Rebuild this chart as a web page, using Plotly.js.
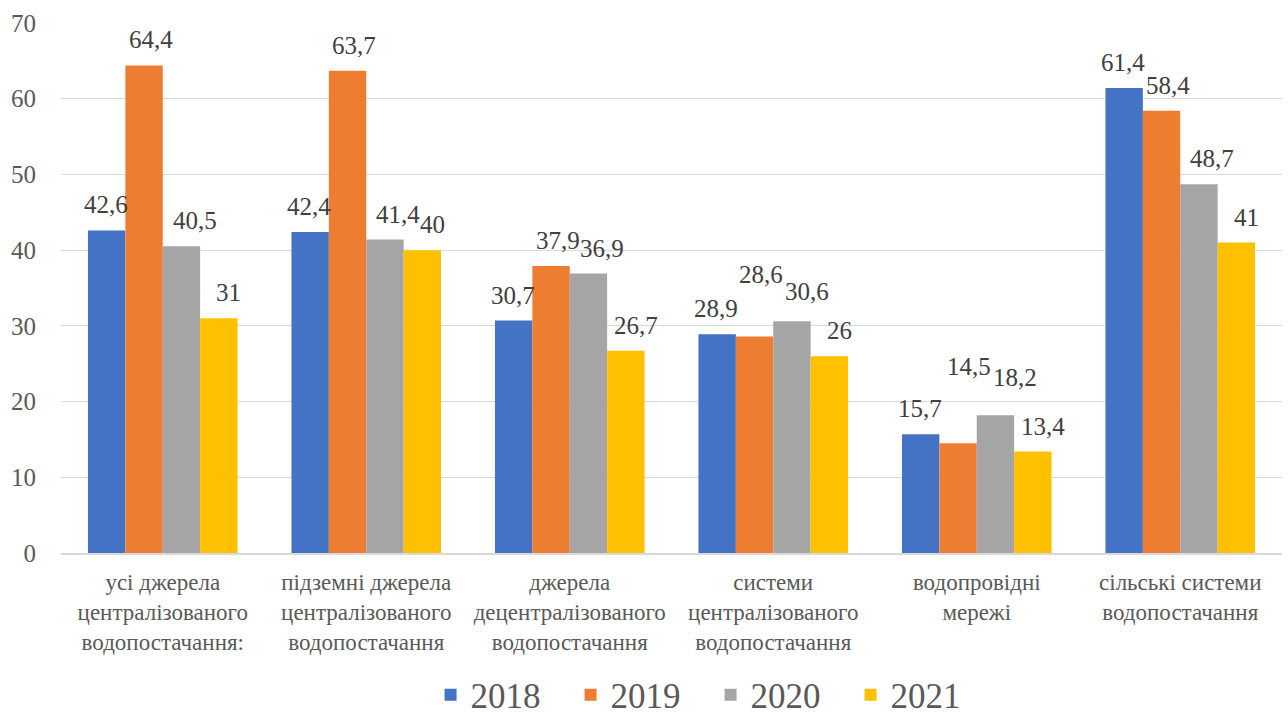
<!DOCTYPE html>
<html>
<head>
<meta charset="utf-8">
<script src="https://cdn.plot.ly/plotly-3.0.1.min.js"></script>
<style>html,body{margin:0;padding:0;background:#fff;}</style>
</head>
<body>
<div id="chart"></div>
<script>
// ---- data ----
var categories = [
  "усі джерела<br>централізованого<br>водопостачання:",
  "підземні джерела<br>централізованого<br>водопостачання",
  "джерела<br>децентралізованого<br>водопостачання",
  "системи<br>централізованого<br>водопостачання",
  "водопровідні<br>мережі",
  "сільські системи<br>водопостачання"
];
var seriesNames = ["2018", "2019", "2020", "2021"];
var values2018 = [42.6, 42.4, 30.7, 28.9, 15.7, 61.4];
var values2019 = [64.4, 63.7, 37.9, 28.6, 14.5, 58.4];
var values2020 = [40.5, 41.4, 36.9, 30.6, 18.2, 48.7];
var values2021 = [31, 40, 26.7, 26, 13.4, 41];
var yTicks = [0, 10, 20, 30, 40, 50, 60, 70];

// ---- styles ----
var SERIF = 'Liberation Serif';
var colors = ["#4472C4", "#ED7D31", "#A5A5A5", "#FFC000"];
var allValues = [values2018, values2019, values2020, values2021];
var seriesXShift = [-57, -12, 32, 66];
var baseYShift = 10;
var labelNudges = {
  "1|3": {dx: 0, dy: 36},
  "2|3": {dx: 2, dy: 4},
  "1|4": {dx: 4, dy: 51},
  "2|4": {dx: 6, dy: 12}
};

function fmt(v) { return String(v).replace('.', ','); }

function draw() {
  var traces = allValues.map(function (vals, i) {
    return {
      type: 'bar', name: seriesNames[i], x: categories, y: vals,
      marker: {color: colors[i]}, hoverinfo: 'none'
    };
  });

  var annotations = [];
  allValues.forEach(function (vals, si) {
    vals.forEach(function (v, ci) {
      var n = labelNudges[si + "|" + ci] || {dx: 0, dy: 0};
      annotations.push({
        x: categories[ci], y: v, xref: 'x', yref: 'y',
        text: fmt(v), showarrow: false,
        xanchor: 'center', yanchor: 'bottom',
        xshift: seriesXShift[si] + n.dx,
        yshift: baseYShift + n.dy,
        font: {family: SERIF, size: 25, color: '#404040'}
      });
    });
  });

  var layout = {
    width: 1288, height: 718,
    paper_bgcolor: '#ffffff', plot_bgcolor: '#ffffff',
    font: {family: SERIF, color: '#595959'},
    margin: {l: 61, r: 6, t: 23, b: 165},
    barmode: 'group', bargap: 0.265, bargroupgap: 0,
    showlegend: true,
    legend: {
      orientation: 'h', x: 0.532, xanchor: 'center',
      yref: 'container', y: 0.032, yanchor: 'middle',
      font: {family: SERIF, size: 35, color: '#595959'},
      traceorder: 'normal', itemwidth: 30,
      entrywidth: 95, entrywidthmode: 'pixels'
    },
    xaxis: {
      type: 'category',
      tickfont: {family: SERIF, size: 23, color: '#595959'},
      showgrid: false, showline: true, linecolor: '#D9D9D9', linewidth: 1.5,
      ticks: '', ticklabelstandoff: 8
    },
    yaxis: {
      range: [0, 70], tickvals: yTicks, ticktext: yTicks.map(String),
      tickfont: {family: SERIF, size: 25, color: '#595959'},
      showgrid: true, gridcolor: '#D9D9D9', gridwidth: 1,
      zeroline: false, showline: false, ticks: '', ticklabelstandoff: 24
    },
    annotations: annotations
  };

  Plotly.newPlot('chart', traces, layout, {displayModeBar: false});
}

var drawn = false;
function drawOnce() { if (!drawn) { drawn = true; draw(); } }
if (document.fonts && document.fonts.load) {
  document.fonts.load('25px "Liberation Serif"', 'водопостачання 2018').then(drawOnce, drawOnce);
  setTimeout(drawOnce, 1500);
} else {
  drawOnce();
}
</script>
</body>
</html>
